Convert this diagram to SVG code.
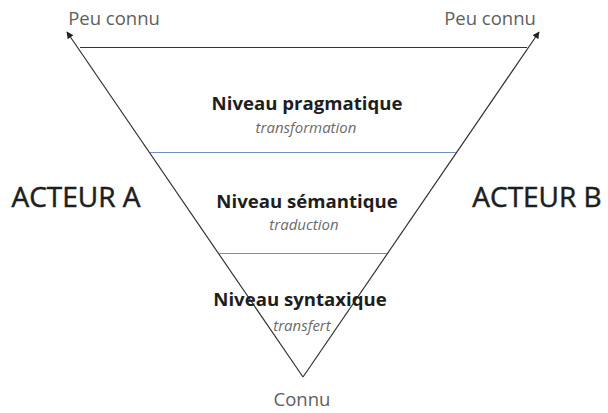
<svg xmlns="http://www.w3.org/2000/svg" width="608" height="413" viewBox="0 0 608 413">
<style>
.edge{stroke:#333;stroke-width:1.2;fill:none}
.lvl{stroke:#6f8fc9;stroke-width:1.2;fill:none}
.t{font-family:"Open Sans","Liberation Sans",sans-serif;text-anchor:middle}
.b{font-weight:bold;font-size:18.6px;fill:#1e1e1e}
.i{font-style:italic;font-size:15px;fill:#6b6b6b}
.g{font-size:18.5px;fill:#606060}
.a{font-size:28px;fill:#1e1e1e;stroke:#1e1e1e;stroke-width:0.5}
</style>
<defs>
<marker id="ah" viewBox="0 0 10 10" refX="9" refY="5" markerWidth="7" markerHeight="7" orient="auto" markerUnits="userSpaceOnUse">
<path d="M0,0 L10,5 L0,10 z" fill="#222"/>
</marker>
</defs>
<rect width="608" height="413" fill="#fff"/>
<g id="connectors">
<line class="edge" x1="303" y1="377" x2="67" y2="32" marker-end="url(#ah)"/>
<line class="edge" x1="303" y1="377" x2="539" y2="32" marker-end="url(#ah)"/>
<line class="edge" x1="80" y1="47.5" x2="527" y2="47.5"/>
<line class="lvl" x1="150" y1="152.5" x2="456" y2="152.5"/>
<line class="lvl" x1="219" y1="253.5" x2="387" y2="253.5"/>
</g>
<g id="peu-connu-a"><text class="t g" x="114" y="25">Peu connu</text></g>
<g id="peu-connu-b"><text class="t g" x="490" y="25">Peu connu</text></g>
<g id="acteur-a"><text class="t a" x="76" y="207">ACTEUR A</text></g>
<g id="acteur-b"><text class="t a" x="537" y="207">ACTEUR B</text></g>
<g id="pragmatique">
<text class="t b" x="307" y="110">Niveau pragmatique</text>
<text class="t i" x="306" y="133">transformation</text>
</g>
<g id="semantique">
<text class="t b" x="307" y="208">Niveau sémantique</text>
<text class="t i" x="304" y="230">traduction</text>
</g>
<g id="syntaxique">
<text class="t b" x="300" y="306">Niveau syntaxique</text>
<text class="t i" x="302" y="331">transfert</text>
</g>
<g id="connu"><text class="t g" x="302" y="406">Connu</text></g>
</svg>
